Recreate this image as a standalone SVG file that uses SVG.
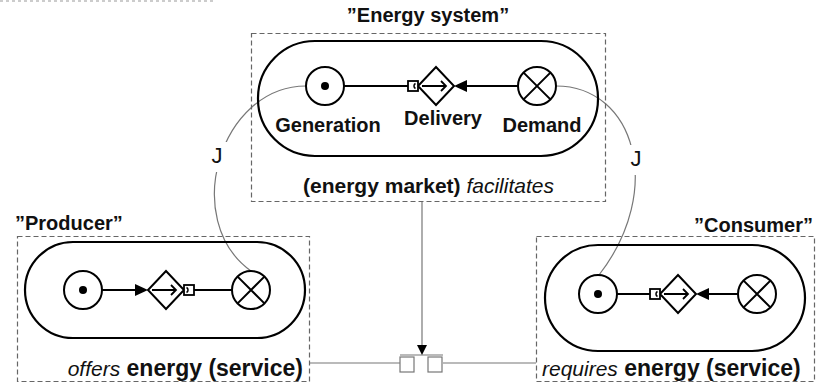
<svg xmlns="http://www.w3.org/2000/svg" width="817" height="383" viewBox="0 0 817 383">
  <style>
    text { font-family: "Liberation Sans", Arial, sans-serif; fill: #111; }
    .lbl { font-size: 20px; font-weight: bold; }
    .cap { font-size: 21px; }
    .bold { font-weight: bold; }
    .big { font-weight: bold; font-size: 23px; }
    .it { font-style: italic; font-weight: normal; }
    .frame { fill: none; stroke: #666; stroke-width: 1.2; stroke-dasharray: 5 3; }
    .pill { fill: none; stroke: #000; stroke-width: 2.2; }
    .sym { fill: #fff; stroke: #000; stroke-width: 2; }
    .flow { fill: none; stroke: #000; stroke-width: 2; }
    .link { fill: none; stroke: #777; stroke-width: 1.2; }
    .jl { font-size: 22px; }
  </style>
  <defs>
    <!-- place / source: circle with centre dot -->
    <g id="source">
      <circle r="19" class="sym"/>
      <circle r="4" fill="#000"/>
    </g>
    <!-- sink: circle with cross -->
    <g id="sink">
      <circle r="19" class="sym"/>
      <path d="M-13.4,-13.4 L13.4,13.4 M-13.4,13.4 L13.4,-13.4" stroke="#000" stroke-width="2"/>
    </g>
    <!-- transfer: diamond with inner arrow -->
    <g id="transfer">
      <path d="M0,-19 L18,0 L0,19 L-18,0 Z" class="sym"/>
      <path d="M-14,0 H10 M5,-5 L10,0 L5,5" fill="none" stroke="#000" stroke-width="1.8"/>
    </g>
    <!-- interface port -->
    <g id="port">
      <rect x="-5" y="-5" width="10" height="10" fill="#fff" stroke="#000" stroke-width="1.8"/>
      <path d="M2.5,-2.5 A2.8,2.8 0 0 0 2.5,2.5" fill="none" stroke="#000" stroke-width="1.5"/>
    </g>
    <path id="headR" d="M0,0 L-13,-6 L-13,6 Z" fill="#000"/>
    <path id="headL" d="M0,0 L13,-6 L13,6 Z" fill="#000"/>
  </defs>

  <!-- dotted rule at the top edge -->
  <line x1="0" y1="1" x2="215" y2="1" stroke="#999" stroke-width="1" stroke-dasharray="3 3"/>

  <!-- connectors -->
  <g id="connectors">
    <path class="link" d="M306,86 C220,86 180,220 251,271"/>
    <path class="link" d="M556,86 C635,86 665,190 599,275"/>
    <rect x="208" y="142" width="20" height="30" fill="#fff"/>
    <rect x="626" y="145" width="20" height="30" fill="#fff"/>
    <text class="jl" x="217" y="163" text-anchor="middle">J</text>
    <text class="jl" x="636" y="166" text-anchor="middle">J</text>
    <!-- service coupling -->
    <line class="link" x1="310" y1="363" x2="400" y2="363"/>
    <line class="link" x1="443" y1="363" x2="536" y2="363"/>
    <line class="link" x1="400" y1="355" x2="443" y2="355"/>
    <rect x="400" y="357" width="14" height="15" fill="#fff" stroke="#777" stroke-width="1.2"/>
    <rect x="428" y="357" width="14" height="15" fill="#fff" stroke="#777" stroke-width="1.2"/>
    <line class="link" x1="422" y1="202" x2="422" y2="346"/>
    <path d="M422,355 L417,345 L427,345 Z" fill="#000"/>
  </g>

  <!-- energy system -->
  <g id="energy-system">
    <text class="lbl" x="428" y="22" text-anchor="middle">”Energy system”</text>
    <rect class="frame" x="251.5" y="33.5" width="354" height="168"/>
    <rect class="pill" x="258" y="41" width="340" height="115" rx="57" ry="57"/>
    <line class="flow" x1="344" y1="86" x2="408" y2="86"/>
    <line class="flow" x1="465" y1="86" x2="518" y2="86"/>
    <use href="#source" x="325" y="86"/>
    <use href="#transfer" x="436" y="86"/>
    <use href="#port" x="413" y="86"/>
    <use href="#headL" x="454" y="86"/>
    <use href="#sink" x="537" y="86"/>
    <text class="lbl" x="328" y="132" text-anchor="middle">Generation</text>
    <text class="lbl" x="443" y="125" text-anchor="middle">Delivery</text>
    <text class="lbl" x="542" y="132" text-anchor="middle">Demand</text>
    <text class="cap" x="428.5" y="193" text-anchor="middle"><tspan class="bold">(energy market) </tspan><tspan class="it">facilitates</tspan></text>
  </g>

  <!-- producer -->
  <g id="producer">
    <text class="lbl" x="15" y="230">”Producer”</text>
    <rect class="frame" x="17.5" y="236.5" width="292" height="145"/>
    <rect class="pill" x="25" y="242" width="280" height="96" rx="48" ry="48"/>
    <line class="flow" x1="102" y1="290" x2="136" y2="290"/>
    <line class="flow" x1="194" y1="290" x2="232" y2="290"/>
    <use href="#source" x="83" y="290"/>
    <use href="#transfer" x="166" y="290"/>
    <use href="#headR" x="148" y="290"/>
    <use href="#port" x="189" y="290" transform="rotate(180 189 290)"/>
    <use href="#sink" x="251" y="290"/>
    <text class="cap" x="303" y="376" text-anchor="end"><tspan class="it">offers</tspan><tspan class="big"> energy (service)</tspan></text>
  </g>

  <!-- consumer -->
  <g id="consumer">
    <text class="lbl" x="813" y="232" text-anchor="end">”Consumer”</text>
    <rect class="frame" x="536.5" y="236.5" width="278" height="145"/>
    <rect class="pill" x="545" y="245" width="260" height="106" rx="53" ry="53"/>
    <line class="flow" x1="617" y1="294" x2="650" y2="294"/>
    <line class="flow" x1="707" y1="294" x2="738" y2="294"/>
    <use href="#source" x="598" y="294"/>
    <use href="#transfer" x="678" y="294"/>
    <use href="#port" x="655" y="294"/>
    <use href="#headL" x="696" y="294"/>
    <use href="#sink" x="757" y="294"/>
    <text class="cap" x="542" y="376"><tspan class="it">requires</tspan><tspan class="big"> energy (service)</tspan></text>
  </g>
</svg>
